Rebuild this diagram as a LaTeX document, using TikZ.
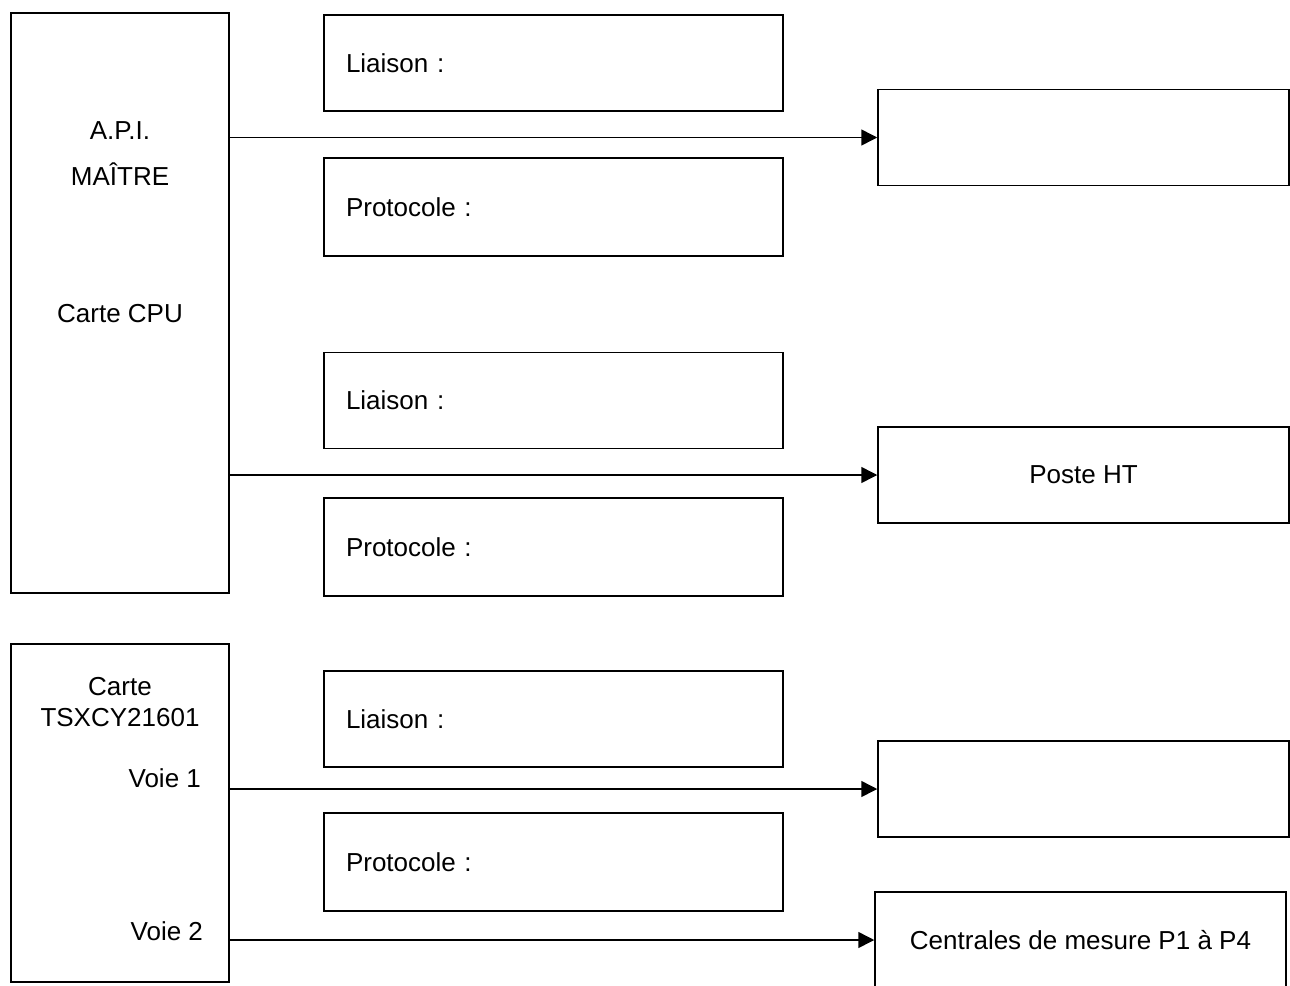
\documentclass[tikz,border=0pt]{standalone}
\usepackage{fontspec}
\setmainfont{Liberation Sans}
\usetikzlibrary{arrows.meta}

\begin{document}
\begin{tikzpicture}[x=1pt,y=-1pt,
        line width=1.5pt,
        font=\fontsize{26}{30}\selectfont,
        box/.style = {rectangle,
            draw,
            minimum height=96pt,
            inner sep=0pt
            },
        champ/.style = {box,
            text width=415pt,
            inner xsep=22pt,
            align=left
            },
        cible/.style = {box,
            minimum width=411pt
            },
        fleche/.style = {-{Triangle[length=16pt,width=16pt]}}]

    \useasboundingbox (0,0) rectangle (1290,985);

    % API maitre
    \node[box,minimum width=218pt,minimum height=580pt] (api) at (120,303) {};
    \node[anchor=base] (apiNom) at (120,139) {A.P.I.};
    \node[anchor=base] (apiMaitre) at (120,185) {MAÎTRE};
    \node[anchor=base] (apiCpu) at (120,322) {Carte CPU};

    % Carte TSXCY21601
    \node[box,minimum width=218pt,minimum height=338pt] (carte) at (120,813) {};
    \node[anchor=base] (carteNom) at (120,695) {Carte};
    \node[anchor=base] (carteRef) at (120,726) {TSXCY21601};
    \node[anchor=base east] (voieA) at (205,787) {Voie 1};
    \node[anchor=base east] (voieB) at (207,940) {Voie 2};

    % Liaisons et protocoles
    \node[champ] (liaisonA) at (553.5,63) {Liaison :};
    \node[champ,minimum height=98pt] (protoA) at (553.5,207) {Protocole :};
    \node[champ] (liaisonB) at (553.5,400.5) {Liaison :};
    \node[champ,minimum height=98pt] (protoB) at (553.5,547) {Protocole :};
    \node[champ] (liaisonC) at (553.5,719) {Liaison :};
    \node[champ,minimum height=98pt] (protoC) at (553.5,862) {Protocole :};

    % Destinataires
    \node[cible] (cibleA) at (1083.5,137.5) {};
    \node[cible] (posteHT) at (1083.5,475) {Poste HT};
    \node[cible] (cibleC) at (1083.5,789) {};
    \node[cible] (centrales) at (1080.5,940) {Centrales de mesure P1 à P4};

    % Fleches
    \draw[fleche] (api.east |- cibleA.west) -- (cibleA.west);
    \draw[fleche] (api.east |- posteHT.west) -- (posteHT.west);
    \draw[fleche] (carte.east |- cibleC.west) -- (cibleC.west);
    \draw[fleche] (carte.east |- centrales.west) -- (centrales.west);

\end{tikzpicture}
\end{document}
